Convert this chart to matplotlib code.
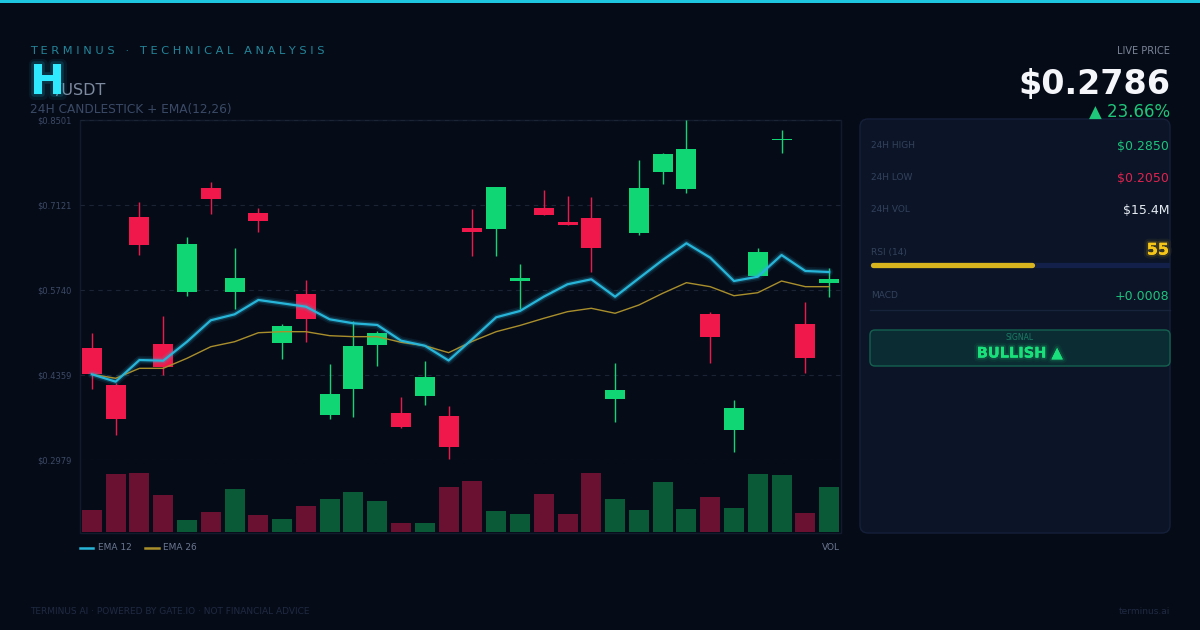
import matplotlib
matplotlib.use('Agg')
import matplotlib.pyplot as plt
from matplotlib import patheffects as pe
from matplotlib.patches import FancyBboxPatch, Rectangle

# -- data -----------------------------------------------------------------
opens = [0.4803, 0.4197, 0.6926, 0.4863, 0.5712, 0.7392, 0.5703, 0.6991, 0.4874, 0.5670,
         0.3710, 0.4127, 0.4847, 0.3742, 0.4019, 0.3699, 0.6742, 0.6726, 0.5886, 0.7067,
         0.6840, 0.6905, 0.3965, 0.6666, 0.7661, 0.7376, 0.5350, 0.3471, 0.5972, 0.8171,
         0.5188, 0.5854]
closes = [0.4371, 0.3645, 0.6466, 0.4485, 0.6487, 0.7218, 0.5930, 0.6856, 0.5155, 0.5274,
          0.4046, 0.4826, 0.5037, 0.3515, 0.4332, 0.3195, 0.6687, 0.7413, 0.5940, 0.6958,
          0.6801, 0.6417, 0.4121, 0.7397, 0.7944, 0.8035, 0.4972, 0.3828, 0.6362, 0.8197,
          0.4631, 0.5924]
highs = [0.5042, 0.4230, 0.7169, 0.5318, 0.6596, 0.7489, 0.6417, 0.7072, 0.5188, 0.5902,
         0.4533, 0.5237, 0.5074, 0.3997, 0.4587, 0.3851, 0.7060, 0.7413, 0.6162, 0.7364,
         0.7267, 0.7255, 0.4559, 0.7851, 0.7960, 0.8501, 0.5383, 0.3954, 0.6427, 0.8339,
         0.5545, 0.6102]
lows = [0.4132, 0.3385, 0.6308, 0.4360, 0.5643, 0.6974, 0.5431, 0.6682, 0.4619, 0.4900,
        0.3640, 0.3682, 0.4506, 0.3494, 0.3867, 0.2990, 0.6297, 0.6297, 0.5431, 0.6958,
        0.6801, 0.6037, 0.3591, 0.6633, 0.7462, 0.7311, 0.4559, 0.3114, 0.5972, 0.7960,
        0.4387, 0.5621]
volumes = [220, 580, 587, 367, 117, 197, 430, 170, 130, 263, 327, 403, 313, 87, 87, 450,
           513, 213, 180, 377, 180, 593, 327, 220, 497, 230, 350, 243, 580, 570, 193, 447]
ema12 = [0.4371, 0.4251, 0.4603, 0.4592, 0.4900, 0.5248, 0.5345, 0.5578, 0.5524, 0.5469,
         0.5264, 0.5199, 0.5172, 0.4917, 0.4835, 0.4595, 0.4944, 0.5297, 0.5399, 0.5631,
         0.5833, 0.5914, 0.5631, 0.5930, 0.6227, 0.6499, 0.6265, 0.5886, 0.5956, 0.6308,
         0.6049, 0.6032]
ema26 = [0.4371, 0.4306, 0.4468, 0.4468, 0.4631, 0.4819, 0.4900, 0.5046, 0.5063, 0.5063,
         0.4998, 0.4982, 0.4982, 0.4891, 0.4835, 0.4722, 0.4907, 0.5063, 0.5164, 0.5280,
         0.5388, 0.5443, 0.5362, 0.5496, 0.5686, 0.5859, 0.5794, 0.5647, 0.5696, 0.5886,
         0.5794, 0.5794]
price_ticks = [0.8501, 0.7121, 0.5740, 0.4359, 0.2979]

pair_base = 'H'
pair_quote = '/USDT'
live_price = '$0.2786'
change_pct = '▲ 23.66%'
stats = [('24H HIGH', '$0.2850', 'up'), ('24H LOW', '$0.2050', 'down'), ('24H VOL', '$15.4M', 'plain')]
rsi = 55
macd = '+0.0008'
signal = 'BULLISH ▲'

# -- style ------------------------------------------------------------------
BG = '#060b18'
UP, DOWN = '#10d673', '#f0184a'
VOL_UP, VOL_DOWN = '#0b5a37', '#6a1030'
CYAN, GOLD = '#27b6da', '#a98f2c'
W, H = 1200, 630


def rect(x0, y0, x1, y1):
    """pixel box (top-left origin) -> figure fraction rect"""
    return [x0 / W, 1 - y1 / H, (x1 - x0) / W, (y1 - y0) / H]


def glow(color, widths=(6, 3), alphas=(0.06, 0.14)):
    return [pe.withStroke(linewidth=w, foreground=color, alpha=a)
            for w, a in zip(widths, alphas)] + [pe.Normal()]


fig = plt.figure(figsize=(W / 100, H / 100), dpi=100, facecolor=BG)

# background / text layer in pixel coordinates
bg = fig.add_axes([0, 0, 1, 1])
bg.set_xlim(0, W); bg.set_ylim(H, 0); bg.axis('off')
bg.add_patch(Rectangle((0, 0), W, 3, color='#1ec6e0', lw=0))

# header
bg.text(30, 51, ' '.join('TERMINUS · TECHNICAL ANALYSIS'), fontsize=8.2, color='#23869a',
        va='center', ha='left')
bg.text(56, 94.5, pair_quote, fontsize=11.5, color='#7d8ba0', va='baseline', ha='left')
bg.text(30, 94, pair_base, fontsize=30, fontweight='bold', color='#2fe9ff', va='baseline',
        ha='left', path_effects=glow('#19c8ea', (8, 4), (0.07, 0.16)))
bg.text(30, 110, '24H CANDLESTICK + EMA(12,26)', fontsize=8.7, color='#3a4a66', va='center')

bg.text(1170, 51, 'LIVE PRICE', fontsize=7, color='#7b8698', ha='right', va='center')
bg.text(1170, 94, live_price, fontsize=24, fontweight='bold', color='#f4f6fa', ha='right',
        va='baseline')
bg.text(1170, 112, change_pct, fontsize=12, color='#1ec77a', ha='right', va='center')

# footer
bg.text(30, 611, 'TERMINUS AI · POWERED BY GATE.IO · NOT FINANCIAL ADVICE', fontsize=6.5,
        color='#1f2a42', va='center')
bg.text(1170, 611, 'terminus.ai', fontsize=6.5, color='#1f2a42', ha='right', va='center')

# chart frame
bg.add_patch(Rectangle((80, 120), 761, 413, fill=False, ec='#121b2b', lw=1))

# side panel
bg.add_patch(FancyBboxPatch((860, 119), 310, 414, boxstyle='round,pad=0,rounding_size=8',
                            fc='#0b1527', ec='#15203a', lw=1))
row_colors = {'up': '#1cc47c', 'down': '#e0224e', 'plain': '#e6ebf2'}
for k, (label, value, kind) in enumerate(stats):
    y = 146 + 32 * k
    bg.text(871, y, label, fontsize=6.5, color='#33415c', va='center')
    bg.text(1169, y, value, fontsize=9, color=row_colors[kind], ha='right', va='center')

bg.text(871, 252, 'RSI (14)', fontsize=6.5, color='#33415c', va='center')
bg.text(1169, 250, str(rsi), fontsize=11.5, fontweight='bold', color='#f5c518', ha='right',
        va='center', path_effects=glow('#f5c518'))
bg.text(871, 296, 'MACD', fontsize=6.5, color='#33415c', va='center')
bg.text(1169, 296, macd, fontsize=9, color='#1cc47c', ha='right', va='center')
bg.plot([870, 1170], [310, 310], color='#17233a', lw=1)

bg.add_patch(FancyBboxPatch((870, 330), 300, 36, boxstyle='round,pad=0,rounding_size=5',
                            fc='#0b2c32', ec='#156150', lw=1))
bg.text(1020, 338, 'SIGNAL', fontsize=5.5, color='#1b7d68', ha='center', va='center')
bg.text(1020, 353, signal, fontsize=10.5, fontweight='bold', color='#19e07a', ha='center',
        va='center', path_effects=glow('#19e07a'))

# legend under chart
bg.plot([80, 93], [548, 548], color=CYAN, lw=1.8)
bg.text(98, 548, 'EMA 12', fontsize=6.5, color='#6a7890', va='center')
bg.plot([145, 159], [548, 548], color=GOLD, lw=1.8)
bg.text(163, 548, 'EMA 26', fontsize=6.5, color='#6a7890', va='center')
bg.text(840, 548, 'VOL', fontsize=6.5, color='#6a7890', ha='right', va='center')

# RSI bar
rax = fig.add_axes(rect(870, 260, 1170, 270))
rax.set_xlim(0, 100); rax.set_ylim(-1, 1); rax.axis('off')
rax.plot([0, 100], [0, 0], color='#12204a', lw=3.8, solid_capstyle='butt')
rax.plot([1, rsi - 1], [0, 0], color='#d8b41e', lw=3.8, solid_capstyle='round')

# -- price axes ---------------------------------------------------------------
n = len(opens)
xs = list(range(n))
ax = fig.add_axes(rect(80, 120, 841, 460))
ax.set_facecolor('none')
ax.set_xlim(-0.5, n - 0.5)
ax.set_ylim(min(price_ticks), max(price_ticks))
for s in ax.spines.values():
    s.set_visible(False)
ax.set_xticks([])
ax.set_yticks(price_ticks)
ax.set_yticklabels([f'${t:.4f}' for t in price_ticks])
ax.tick_params(axis='y', length=0, pad=31, labelsize=6, labelcolor='#3b4a66')
for lab in ax.get_yticklabels():
    lab.set_ha('left')
ax.grid(axis='y', color='#1a2435', lw=0.8, ls=(0, (4, 4)))

colors = [UP if c >= o else DOWN for o, c in zip(opens, closes)]
ax.vlines(xs, lows, highs, colors=colors, lw=1, zorder=2, clip_on=False)
bottoms = [min(o, c) for o, c in zip(opens, closes)]
heights = [max(abs(c - o), 0.0012) for o, c in zip(opens, closes)]
ax.bar(xs, heights, bottom=bottoms, width=0.84, color=colors, zorder=3)

for lw, a in [(6, 0.10), (3.5, 0.22)]:
    ax.plot(xs, ema12, color=CYAN, lw=lw, alpha=a, zorder=4, solid_capstyle='round')
ax.plot(xs, ema12, color=CYAN, lw=1.6, zorder=5)
ax.plot(xs, ema26, color=GOLD, lw=1.0, zorder=4)

# -- volume axes --------------------------------------------------------------
vax = fig.add_axes(rect(80, 460, 841, 532))
vax.set_facecolor('none')
vax.set_xlim(-0.5, n - 0.5)
vax.set_ylim(0, 720)
vax.axis('off')
vcols = [VOL_UP if c >= o else VOL_DOWN for o, c in zip(opens, closes)]
vax.bar(xs, volumes, width=0.84, color=vcols)

fig.savefig('out.png', dpi=100, facecolor=BG)
